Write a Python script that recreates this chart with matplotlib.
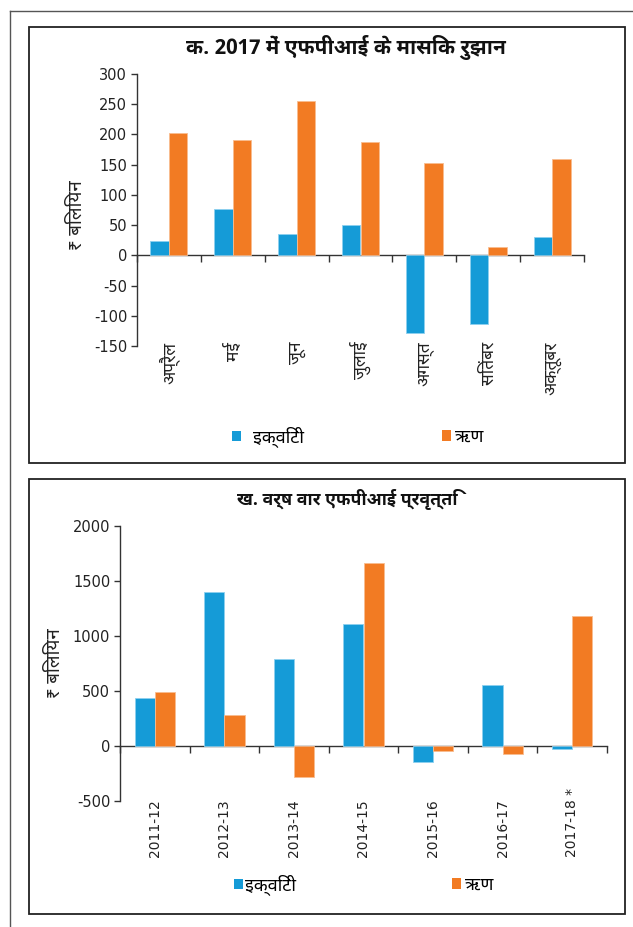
import matplotlib
matplotlib.use("Agg")
import matplotlib.pyplot as plt
import numpy as np
from matplotlib.patches import Rectangle, Patch
from matplotlib.lines import Line2D

plt.rcParams["axes.unicode_minus"] = False

# ---------------- data ----------------
months = ["अप्रैल", "मई", "जून", "जुलाई", "अगस्त", "सितंबर", "अक्तूबर"]
equity_monthly = [23, 76, 35, 51, -128, -114, 30]
debt_monthly = [203, 190, 256, 188, 153, 13, 159]

years = ["2011-12", "2012-13", "2013-14", "2014-15", "2015-16", "2016-17", "2017-18 *"]
equity_yearly = [434, 1397, 791, 1109, -142, 551, -24]
debt_yearly = [494, 279, -285, 1661, -43, -73, 1182]

title1 = "क. 2017 में एफपीआई के मासिक रुझान"
title2 = "ख. वर्ष वार एफपीआई प्रवृत्ति"
ylabel = "₹ बिलियन"
legend_labels = ["इक्विटी", "ऋण"]

yticks1 = [-150, -100, -50, 0, 50, 100, 150, 200, 250, 300]
yticks2 = [-500, 0, 500, 1000, 1500, 2000]

# ---------------- style ----------------
BLUE = "#159BD7"
ORANGE = "#F27B23"
BLUE_EDGE = "#8DD0EF"
ORANGE_EDGE = "#F9BC8F"
AXC = "#333333"
DEVA = ["Noto Sans Devanagari UI", "Noto Sans Devanagari", "DejaVu Sans"]

W, H = 633, 927
fig = plt.figure(figsize=(W / 100, H / 100), dpi=100)


def fx(px):
    return px / W


def fy(py):
    return 1 - py / H


# frames
fig.add_artist(Line2D([fx(10), 1.0], [fy(11), fy(11)], color="#555555", lw=1.0))
fig.add_artist(Line2D([fx(10), fx(10)], [fy(11), 0.0], color="#555555", lw=1.0))
for (x0, y0, x1, y1) in [(29, 27, 625, 463), (29, 479, 625, 914)]:
    fig.add_artist(Rectangle((fx(x0), fy(y1)), fx(x1) - fx(x0), fy(y0) - fy(y1),
                             transform=fig.transFigure, fill=False,
                             edgecolor="#222222", lw=1.3))


def draw_panel(rect, cats, eq, dt, yticks, label_mode):
    ax = fig.add_axes(rect)
    x = np.arange(len(cats))
    bw = 0.29
    ax.bar(x - bw / 2, eq, bw, color=BLUE, edgecolor=BLUE_EDGE, lw=0.6, zorder=2)
    ax.bar(x + bw / 2, dt, bw, color=ORANGE, edgecolor=ORANGE_EDGE, lw=0.6, zorder=2)
    ax.set_xlim(-0.5, len(cats) - 0.5)
    ax.set_ylim(yticks[0], yticks[-1])
    ax.set_yticks(yticks)
    for s in ["top", "right", "bottom"]:
        ax.spines[s].set_visible(False)
    ax.spines["left"].set_color(AXC)
    ax.spines["left"].set_linewidth(1.0)
    ax.tick_params(axis="y", direction="out", length=4, width=1.0, color=AXC,
                   labelsize=10.5, labelcolor="#222222", pad=3)
    ax.set_xticks(x)
    if label_mode == "top":
        ax.set_xticklabels(cats, rotation=90, family=DEVA, fontsize=12.5, color="#222222")
        ax.tick_params(axis="x", length=0, pad=-3)
    else:
        ax.set_xticklabels(cats, rotation=90, fontsize=10, color="#222222",
                           rotation_mode="anchor", ha="left", va="center")
        ax.tick_params(axis="x", length=0, pad=40)
    # zero axis with boundary ticks
    sec = ax.secondary_xaxis(0, transform=ax.transData)
    sec.set_xticks(np.arange(len(cats) + 1) - 0.5)
    sec.set_xticklabels([""] * (len(cats) + 1))
    sec.tick_params(direction="out", length=5, width=1.0, color=AXC)
    sec.spines["bottom"].set_color(AXC)
    sec.spines["bottom"].set_linewidth(1.0)
    return ax


ax1 = draw_panel([fx(137), fy(346), fx(584) - fx(137), fy(74) - fy(346)],
                 months, equity_monthly, debt_monthly, yticks1, "top")
ax2 = draw_panel([fx(120), fy(801), fx(607) - fx(120), fy(526) - fy(801)],
                 years, equity_yearly, debt_yearly, yticks2, "bottom")

ax1.set_ylabel(ylabel, family=DEVA, fontsize=13.5, color="#222222")
ax1.yaxis.set_label_coords((86 - 137) / 447, (346 - 215) / 272)
ax2.set_ylabel(ylabel, family=DEVA, fontsize=13.5, color="#222222")
ax2.yaxis.set_label_coords((64 - 120) / 487, (801 - 663) / 275)

fig.text(fx(346), fy(47), title1, family=DEVA, fontsize=15, fontweight="bold",
         ha="center", va="center", color="#111111")
fig.text(fx(347), fy(499), title2, family=DEVA, fontsize=12.8, fontweight="bold",
         ha="center", va="center", color="#111111")

handles = [Patch(facecolor=BLUE, edgecolor="none"), Patch(facecolor=ORANGE, edgecolor="none")]


def add_entry(handle, label, xpx, ypx, textpad):
    leg = fig.legend([handle], [label], loc="center left",
                     bbox_to_anchor=(fx(xpx), fy(ypx)), frameon=False,
                     prop={"family": DEVA, "size": 13}, borderpad=0, borderaxespad=0,
                     handlelength=0.5, handleheight=0.5, handletextpad=textpad)
    return leg


add_entry(handles[0], legend_labels[0], 232, 437, 0.65)
add_entry(handles[1], legend_labels[1], 442, 437, 0.2)
add_entry(handles[0], legend_labels[0], 234, 885, 0.1)
add_entry(handles[1], legend_labels[1], 452, 885, 0.2)

fig.savefig("out.png", dpi=100)
